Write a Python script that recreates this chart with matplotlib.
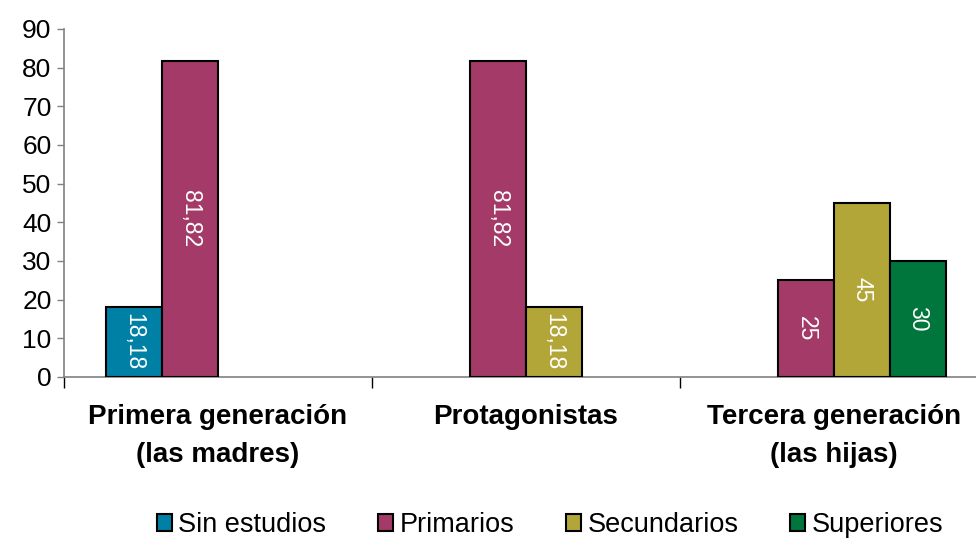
import matplotlib
matplotlib.use("Agg")
import matplotlib.pyplot as plt
import numpy as np

categories = ["Primera generación\n(las madres)", "Protagonistas", "Tercera generación\n(las hijas)"]
series_names = ["Sin estudios", "Primarios", "Secundarios", "Superiores"]
sin_estudios = [18.18, 0, 0]
primarios = [81.82, 81.82, 25]
secundarios = [0, 18.18, 45]
superiores = [0, 0, 30]
label_texts = {
    "Sin estudios": ["18,18", "", ""],
    "Primarios": ["81,82", "81,82", "25"],
    "Secundarios": ["", "18,18", "45"],
    "Superiores": ["", "", "30"],
}
colors = ["#0080A4", "#A33A68", "#B3A638", "#00763D"]
yticks = [0, 10, 20, 30, 40, 50, 60, 70, 80, 90]

plt.rcParams['font.family'] = ['Liberation Sans', 'DejaVu Sans']

fig = plt.figure(figsize=(9.76, 5.4), dpi=100)
W, H = 976, 540
x0, x1 = 64, 988
y0, y1 = 377, 29
ax = fig.add_axes([x0 / W, (H - y0) / H, (x1 - x0) / W, (y0 - y1) / H])

data = [sin_estudios, primarios, secundarios, superiores]
x = np.arange(len(categories))
bw = 56 / 308
for i, (name, vals, col) in enumerate(zip(series_names, data, colors)):
    vals = np.asarray(vals, dtype=float)
    keep = vals > 0
    pos = (x + (i - 1.5) * bw)[keep]
    bars = ax.bar(pos, vals[keep], width=bw, color=col, edgecolor="black", linewidth=1.5,
                  label=name, zorder=3)
    texts = [t for t, k in zip(label_texts[name], keep) if k]
    for b, v, t in zip(bars, vals[keep], texts):
        ax.text(b.get_x() + b.get_width() / 2, v / 2, t, rotation=270,
                ha="center", va="center", color="white", fontsize=16.5, zorder=4)

ax.set_xlim(-0.5, 2.5)
ax.set_ylim(0, 90)
ax.set_yticks(yticks)
ax.set_yticklabels([str(t) for t in yticks], fontsize=19)
ax.tick_params(axis="y", direction="out", length=5, width=1, color="#808080", pad=4)
ax.set_xticks([-0.5, 0.5, 1.5, 2.5])
ax.set_xticklabels([])
ax.tick_params(axis="x", direction="out", length=8, width=1, color="black")
for s in ["top", "right"]:
    ax.spines[s].set_visible(False)
for s in ["left", "bottom"]:
    ax.spines[s].set_color("#808080")
    ax.spines[s].set_linewidth(1.2)

for xi, c in zip(x, categories):
    ax.text(xi, -6.9, c, ha="center", va="top", fontsize=20, fontweight="bold",
            linespacing=1.6, transform=ax.transData)

handles, labels = ax.get_legend_handles_labels()
leg = fig.legend(handles, labels, loc="center", bbox_to_anchor=(550 / W, (H - 525) / H),
                 ncol=4, frameon=False, fontsize=19.5, handlelength=0.55, handleheight=0.55,
                 handletextpad=0.25, columnspacing=1.9)

fig.savefig("out.png", dpi=100)
